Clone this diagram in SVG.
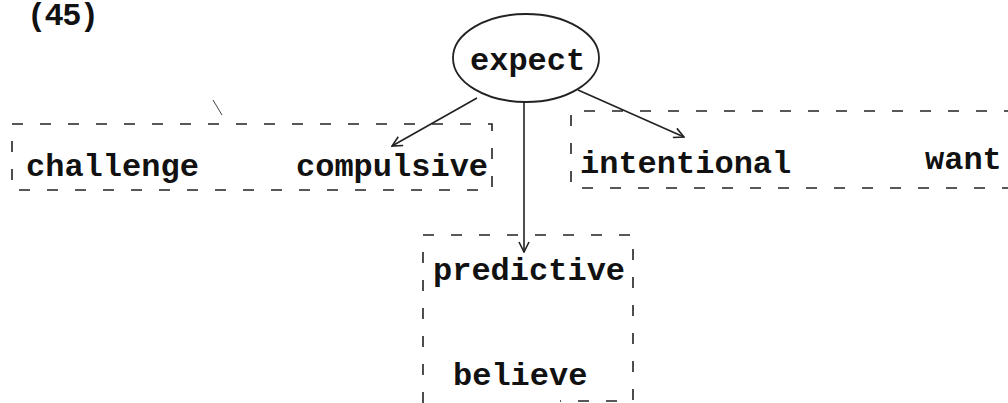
<svg xmlns="http://www.w3.org/2000/svg" width="1008" height="403" viewBox="0 0 1008 403">
<style>
text{font-family:"Liberation Mono","Courier New",monospace;font-weight:bold;font-size:32px;fill:#111}
.box{fill:none;stroke:#222;stroke-width:1.6;stroke-dasharray:11 17}
.edge{fill:none;stroke:#222;stroke-width:1.6}
</style>
<defs>
<marker id="arr" viewBox="0 0 12 12" refX="11" refY="6" markerWidth="12" markerHeight="12" markerUnits="userSpaceOnUse" orient="auto">
<path d="M1,1 L11,6 L1,11" fill="none" stroke="#222" stroke-width="1.6"/>
</marker>
</defs>
<rect width="1008" height="403" fill="#fff"/>
<text x="27" y="25" font-size="27" textLength="72" lengthAdjust="spacing">(45)</text>
<g id="expect">
<ellipse cx="526" cy="58" rx="73" ry="44" fill="none" stroke="#222" stroke-width="1.8"/>
<text x="470" y="70">expect</text>
</g>
<g id="group-left">
<rect class="box" x="12" y="124" width="480" height="66"/>
<text x="26" y="176">challenge</text>
<text x="296" y="176">compulsive</text>
</g>
<g id="group-right">
<path class="box" d="M1015,111 H571 V188 H1015"/>
<text x="580" y="173">intentional</text>
<text x="925" y="169">want</text>
</g>
<g id="group-bottom">
<path class="box" d="M423,403 V235 H633 V401 H560"/>
<text x="433" y="280">predictive</text>
<text x="453" y="385">believe</text>
</g>
<g id="connectors">
<line class="edge" x1="477" y1="98" x2="392" y2="146" marker-end="url(#arr)"/>
<line class="edge" x1="578" y1="90" x2="684" y2="137" marker-end="url(#arr)"/>
<line class="edge" x1="524" y1="102" x2="524" y2="252" marker-end="url(#arr)"/>
</g>
<line x1="213" y1="100" x2="222" y2="115" stroke="#444" stroke-width="1"/>
</svg>
